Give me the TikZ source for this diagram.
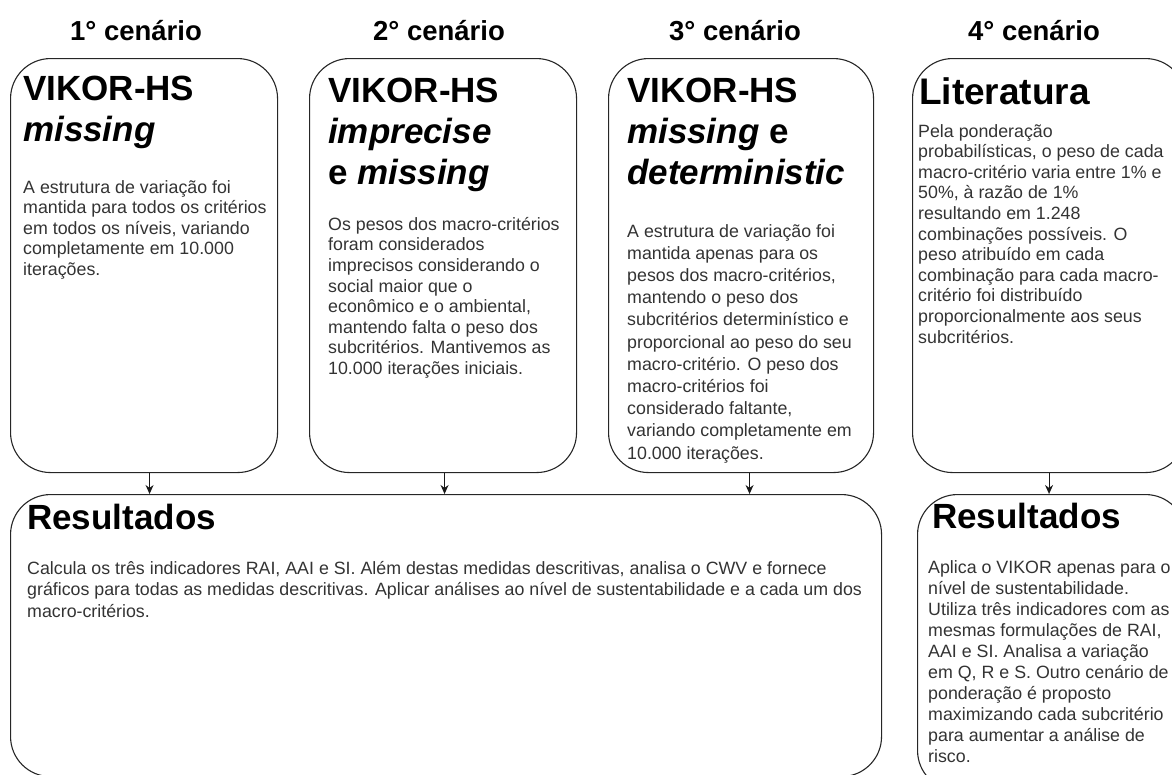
\documentclass[tikz,border=0pt]{standalone}
\usepackage{fontspec}
\setmainfont{Liberation Sans}
\usetikzlibrary{arrows.meta,positioning}
\tikzset{
 scenbox/.style={draw=black!85, line width=1.1pt, rounded corners=40pt,
   anchor=north west, inner sep=0pt, minimum width=267pt, minimum height=414pt},
 resbox/.style={scenbox, minimum height=282pt},
 heading/.style={font=\bfseries\fontsize{27.5}{32}\selectfont, anchor=base},
 ttl/.style={font=\bfseries\fontsize{35}{41}\selectfont, align=left,
   anchor=north west, inner sep=0pt},
 body/.style={font=\fontsize{17.8}{20.6}\selectfont, text=black!80, align=left,
   anchor=north west, inner sep=0pt},
 flow/.style={draw=black!90, line width=1.1pt, -{Stealth[length=9pt,width=8pt]}},
}

\begin{document}
\begin{tikzpicture}[x=1pt,y=-1pt]
    \useasboundingbox (0,0) rectangle (1172,774);
    \clip (0,0) rectangle (1172,774);
    % scenario boxes
    \node[scenbox] (c1) at (10,58) {};
    \node[scenbox] (c2) at (309,58) {};
    \node[scenbox, minimum width=265pt] (c3) at (608,58) {};
    \node[scenbox, minimum width=273pt] (c4) at (912,58) {};
    % result boxes
    \node[resbox, minimum width=871pt] (r1) at (10,494) {};
    \node[resbox, minimum width=268pt, minimum height=296pt] (r2) at (917,494) {};
    % headings
    \node[heading] (h1) at (136,40) {1° cenário};
    \node[heading] (h2) at (439,40) {2° cenário};
    \node[heading] (h3) at (735,40) {3° cenário};
    \node[heading] (h4) at (1034,40) {4° cenário};
    % titles
    \node[ttl] (t1) at ([shift={(13,18)}]c1.north west) {VIKOR-HS\\\textit{missing}};
    \node[ttl] (t2) at ([shift={(19,20)}]c2.north west) {VIKOR-HS\\\textit{imprecise}\\e \textit{missing}};
    \node[ttl] (t3) at ([shift={(19,20)}]c3.north west) {VIKOR-HS\\\textit{missing} e\\\textit{deterministic}};
    \node[ttl, font=\bfseries\fontsize{37}{41}\selectfont] (t4) at ([shift={(7,19)}]c4.north west) {Literatura};
    \node[ttl] (t5) at ([shift={(17,10)}]r1.north west) {Resultados};
    \node[ttl] (t6) at ([shift={(15,9)}]r2.north west) {Resultados};
    % texts
    \node[body] (b1) at ([shift={(13,122)}]c1.north west)
      {A estrutura de variação foi\\mantida para todos os critérios\\em todos os níveis, variando\\completamente em 10.000\\iterações.};
    \node[body] (b2) at ([shift={(19,159)}]c2.north west)
      {Os pesos dos macro-critérios\\foram considerados\\imprecisos considerando o\\social maior que o\\econômico e o ambiental,\\mantendo falta o peso dos\\subcritérios. Mantivemos as\\10.000 iterações iniciais.};
    \node[body, font=\fontsize{17.8}{22.2}\selectfont] (b3) at ([shift={(19,166)}]c3.north west)
      {A estrutura de variação foi\\mantida apenas para os\\pesos dos macro-critérios,\\mantendo o peso dos\\subcritérios determinístico e\\proporcional ao peso do seu\\macro-critério. O peso dos\\macro-critérios foi\\considerado faltante,\\variando completamente em\\10.000 iterações.};
    \node[body] (b4) at ([shift={(6,66)}]c4.north west)
      {Pela ponderação\\probabilísticas, o peso de cada\\macro-critério varia entre 1\% e\\50\%, à razão de 1\%\\resultando em 1.248\\combinações possíveis. O\\peso atribuído em cada\\combinação para cada macro-\\critério foi distribuído\\proporcionalmente aos seus\\subcritérios.};
    \node[body, font=\fontsize{17.8}{21.5}\selectfont] (b5) at ([shift={(17,67)}]r1.north west)
      {Calcula os três indicadores RAI, AAI e SI. Além destas medidas descritivas, analisa o CWV e fornece\\gráficos para todas as medidas descritivas. Aplicar análises ao nível de sustentabilidade e a cada um dos\\macro-critérios.};
    \node[body, font=\fontsize{17.8}{21}\selectfont] (b6) at ([shift={(11,66)}]r2.north west)
      {Aplica o VIKOR apenas para o\\nível de sustentabilidade.\\Utiliza três indicadores com as\\mesmas formulações de RAI,\\AAI e SI. Analisa a variação\\em Q, R e S. Outro cenário de\\ponderação é proposto\\maximizando cada subcritério\\para aumentar a análise de\\risco.};
    % arrows
    \foreach \b/\s in {c1/5.5, c2/1.5, c3/8.5} {
        \draw[flow] ([xshift=\s pt]\b.south) -- ([xshift=\s pt]\b.south |- r1.north);
    }
    \draw[flow] (c4.south) -- (c4.south |- r2.north);
\end{tikzpicture}
\end{document}
